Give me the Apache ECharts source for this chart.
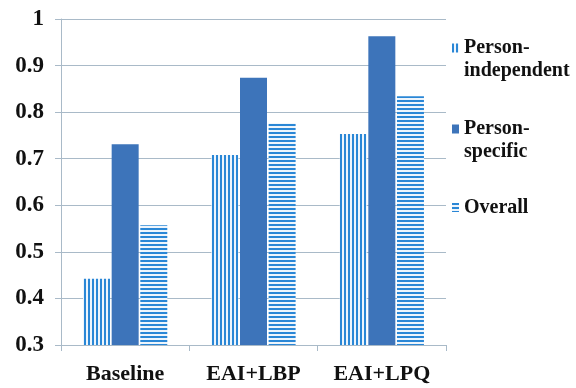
<!DOCTYPE html>
<html><head><meta charset="utf-8">
<script src="https://cdn.jsdelivr.net/npm/echarts@6/dist/echarts.min.js"></script>
<style>html,body{margin:0;padding:0;background:#fff;}#c{width:576px;height:388px;}</style>
</head><body><div id="c"></div>
<script>
const categories = ['Baseline', 'EAI+LBP', 'EAI+LPQ'];
const personIndependent = [0.442, 0.708, 0.753];
const personSpecific = [0.731, 0.874, 0.963];
const overall = [0.557, 0.776, 0.834];
const yTicks = { min: 0.3, max: 1, interval: 0.1 };

function stripe(vertical) {
  const c = document.createElement('canvas');
  c.width = vertical ? 4 : 1; c.height = vertical ? 1 : 4;
  const ctx = c.getContext('2d');
  ctx.fillStyle = '#eef5fc'; ctx.fillRect(0, 0, c.width, c.height);
  ctx.fillStyle = '#2a87d6';
  if (vertical) ctx.fillRect(0, 0, 2, 1); else ctx.fillRect(0, 0, 1, 2);
  return { image: c, repeat: 'repeat' };
}
const font = 'Liberation Serif';
const gridColor = '#a9bac8';
const legendBase = {
  left: 452, padding: 0, itemWidth: 7, itemHeight: 9, icon: 'rect',
  textStyle: { fontFamily: font, fontWeight: 'bold', fontSize: 20, lineHeight: 23, color: '#111' }
};
const chart = echarts.init(document.getElementById('c'), null, { renderer: 'canvas' });
chart.setOption({
  animation: false,
  backgroundColor: '#ffffff',
  grid: { left: 61, right: 130, top: 19, bottom: 43 },
  legend: [
    Object.assign({}, legendBase, { data: ['Person-independent'], top: 13.5,
      formatter: n => '\n' + n.replace('-', '-\n') }),
    Object.assign({}, legendBase, { data: ['Person-specific'], top: 94.5,
      formatter: n => '\n' + n.replace('-', '-\n') }),
    Object.assign({}, legendBase, { data: ['Overall'], top: 196 })
  ],
  xAxis: {
    type: 'category', data: categories,
    axisLine: { lineStyle: { color: gridColor, width: 1 } },
    axisTick: { show: true, length: 6, lineStyle: { color: gridColor } },
    axisLabel: { margin: 18, fontFamily: font, fontWeight: 'bold', fontSize: 22, color: '#111' }
  },
  yAxis: {
    type: 'value', min: yTicks.min, max: yTicks.max, interval: yTicks.interval,
    axisLine: { show: true, lineStyle: { color: gridColor, width: 1 } },
    axisTick: { show: true, length: 6, lineStyle: { color: gridColor } },
    splitLine: { lineStyle: { color: gridColor, width: 1 } },
    axisLabel: { margin: 17, fontFamily: font, fontWeight: 'bold', fontSize: 23, color: '#111',
      formatter: v => (Math.round(v * 10) / 10).toString() }
  },
  series: [
    { name: 'Person-independent', type: 'bar', data: personIndependent, barWidth: 27, barGap: '6%',
      itemStyle: { color: stripe(true) } },
    { name: 'Person-specific', type: 'bar', data: personSpecific, barWidth: 27, barGap: '6%',
      itemStyle: { color: '#3d74ba' } },
    { name: 'Overall', type: 'bar', data: overall, barWidth: 27, barGap: '6%',
      itemStyle: { color: stripe(false) } }
  ]
});
</script></body></html>
